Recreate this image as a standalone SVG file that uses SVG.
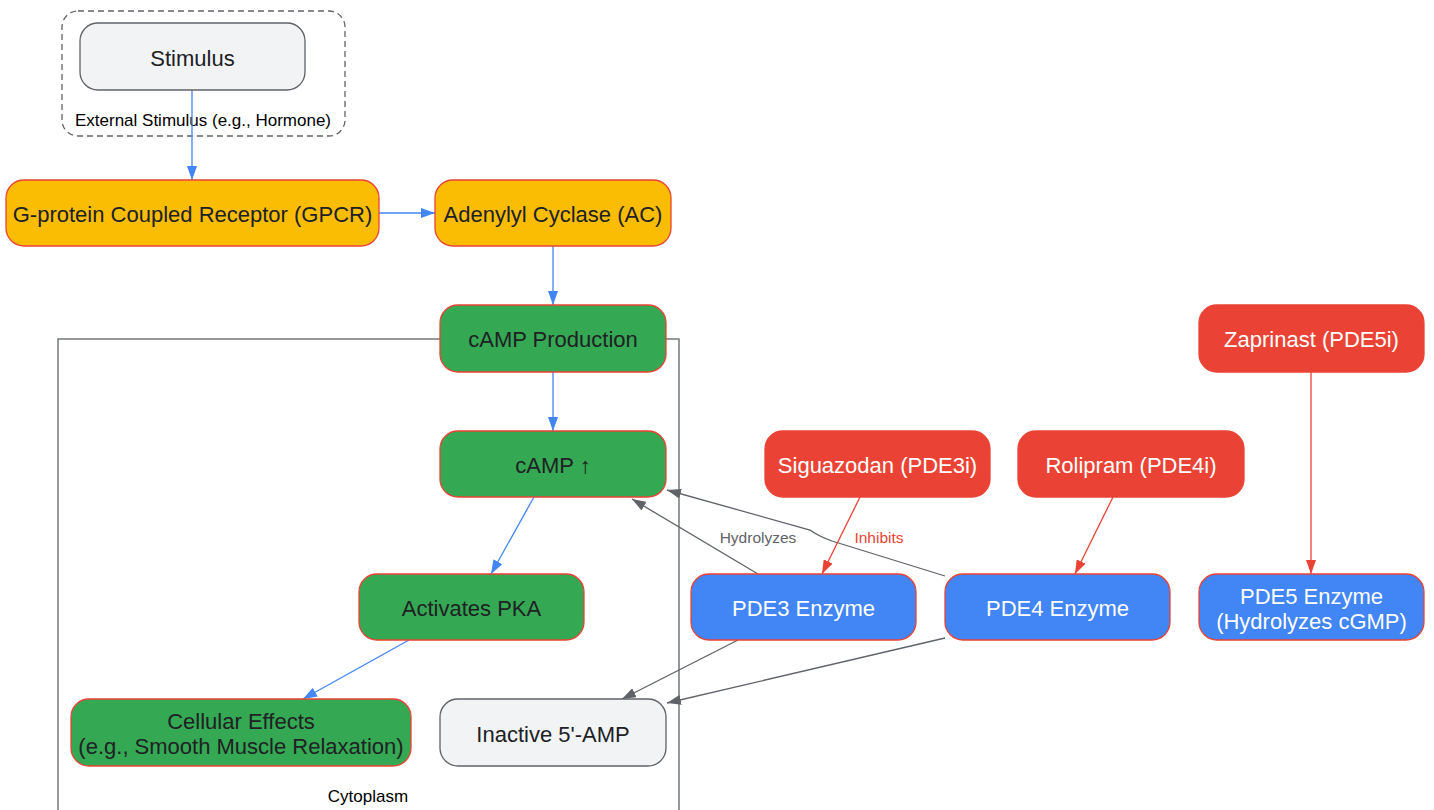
<svg xmlns="http://www.w3.org/2000/svg" width="1434" height="810" viewBox="0 0 1434 810">
<style>
text{font-family:"Liberation Sans",Arial,sans-serif;text-anchor:middle;dominant-baseline:central}
.n{font-size:22px;fill:#202124}
.w{font-size:22px;fill:#ffffff}
.cl{font-size:17px;fill:#000}
.el{font-size:15.5px}
.grey rect{fill:#f1f3f4;stroke:#5f6368;stroke-width:1.3}
.yel rect{fill:#fbbc04;stroke:#ea4335;stroke-width:1.3}
.grn rect{fill:#34a853;stroke:#ea4335;stroke-width:1.3}
.blu rect{fill:#4285f4;stroke:#ea4335;stroke-width:1.3}
.red rect{fill:#ea4335;stroke:#ea4335;stroke-width:1.3}
.eb{stroke:#4285f4;stroke-width:1.3;fill:none}
.eg{stroke:#5f6368;stroke-width:1.3;fill:none}
.er{stroke:#ea4335;stroke-width:1.3;fill:none}
</style>
<defs>
<marker id="ab" viewBox="0 0 14 10" refX="14" refY="5" markerWidth="14" markerHeight="10" markerUnits="userSpaceOnUse" orient="auto"><path d="M0,0 L14,5 L0,10 z" fill="#4285f4"/></marker>
<marker id="ag" viewBox="0 0 14 10" refX="14" refY="5" markerWidth="14" markerHeight="10" markerUnits="userSpaceOnUse" orient="auto"><path d="M0,0 L14,5 L0,10 z" fill="#5f6368"/></marker>
<marker id="ar" viewBox="0 0 14 10" refX="14" refY="5" markerWidth="14" markerHeight="10" markerUnits="userSpaceOnUse" orient="auto"><path d="M0,0 L14,5 L0,10 z" fill="#ea4335"/></marker>
</defs>
<rect width="1434" height="810" fill="#fff"/>
<g id="cluster_stimulus">
<rect x="62" y="11" width="283" height="125" rx="16" fill="none" stroke="#5f6368" stroke-width="1.3" stroke-dasharray="6,4"/>
<text class="cl" x="203" y="120">External Stimulus (e.g., Hormone)</text>
</g>
<g id="cluster_cytoplasm">
<rect x="58" y="339" width="621" height="490" fill="none" stroke="#5f6368" stroke-width="1.3"/>
<text class="cl" x="368" y="796">Cytoplasm</text>
</g>
<g id="edges">
<path class="eb" d="M192,90 L192,180" marker-end="url(#ab)"/>
<path class="eb" d="M379,213 L435,213" marker-end="url(#ab)"/>
<path class="eb" d="M553,246 L553,305" marker-end="url(#ab)"/>
<path class="eb" d="M553,372 L553,431" marker-end="url(#ab)"/>
<path class="eb" d="M534,497 L491,574" marker-end="url(#ab)"/>
<path class="eb" d="M409,640 L303,699" marker-end="url(#ab)"/>
<path class="eg" d="M758,574 L632,499" marker-end="url(#ag)"/>
<text class="el" x="758" y="537" fill="#5f6368">Hydrolyzes</text>
<path class="eg" d="M945,576 L832,541 Q818,536 810,530 L667,490" marker-end="url(#ag)"/>
<path class="er" d="M860,497 L822,574" marker-end="url(#ar)"/>
<text class="el" x="879" y="537" fill="#ea4335">Inhibits</text>
<path class="er" d="M1113,497 L1075,574" marker-end="url(#ar)"/>
<path class="er" d="M1311,372 L1311,574" marker-end="url(#ar)"/>
<path class="eg" d="M738,640 L622,699" marker-end="url(#ag)"/>
<path class="eg" d="M945,638 L667,703" marker-end="url(#ag)"/>
</g>
<g id="stimulus" class="grey"><rect x="80" y="23" width="225" height="67" rx="18"/><text class="n" x="192.5" y="58">Stimulus</text></g>
<g id="gpcr" class="yel"><rect x="6" y="180" width="373" height="66" rx="18"/><text class="n" x="192.5" y="214">G-protein Coupled Receptor (GPCR)</text></g>
<g id="ac" class="yel"><rect x="435" y="180" width="236" height="66" rx="18"/><text class="n" x="553" y="214">Adenylyl Cyclase (AC)</text></g>
<g id="camp_prod" class="grn"><rect x="440" y="305" width="226" height="67" rx="18"/><text class="n" x="553" y="339">cAMP Production</text></g>
<g id="camp" class="grn"><rect x="440" y="431" width="226" height="66" rx="18"/><text class="n" x="553" y="465">cAMP ↑</text></g>
<g id="pka" class="grn"><rect x="359" y="574" width="225" height="66" rx="18"/><text class="n" x="471.5" y="608">Activates PKA</text></g>
<g id="effects" class="grn"><rect x="71" y="699" width="340" height="67" rx="18"/><text class="n" x="241" y="721">Cellular Effects</text><text class="n" x="241" y="746">(e.g., Smooth Muscle Relaxation)</text></g>
<g id="amp" class="grey"><rect x="440" y="699" width="226" height="67" rx="18"/><text class="n" x="553" y="734">Inactive 5'-AMP</text></g>
<g id="pde3" class="blu"><rect x="691" y="574" width="225" height="66" rx="18"/><text class="w" x="803.5" y="608">PDE3 Enzyme</text></g>
<g id="pde4" class="blu"><rect x="945" y="574" width="225" height="66" rx="18"/><text class="w" x="1057.5" y="608">PDE4 Enzyme</text></g>
<g id="pde5" class="blu"><rect x="1199" y="574" width="225" height="66" rx="18"/><text class="w" x="1311.5" y="596">PDE5 Enzyme</text><text class="w" x="1311.5" y="621">(Hydrolyzes cGMP)</text></g>
<g id="siguazodan" class="red"><rect x="765" y="431" width="225" height="66" rx="18"/><text class="w" x="877.5" y="465">Siguazodan (PDE3i)</text></g>
<g id="rolipram" class="red"><rect x="1018" y="431" width="226" height="66" rx="18"/><text class="w" x="1131" y="465">Rolipram (PDE4i)</text></g>
<g id="zaprinast" class="red"><rect x="1199" y="305" width="225" height="67" rx="18"/><text class="w" x="1311.5" y="339">Zaprinast (PDE5i)</text></g>
</svg>
